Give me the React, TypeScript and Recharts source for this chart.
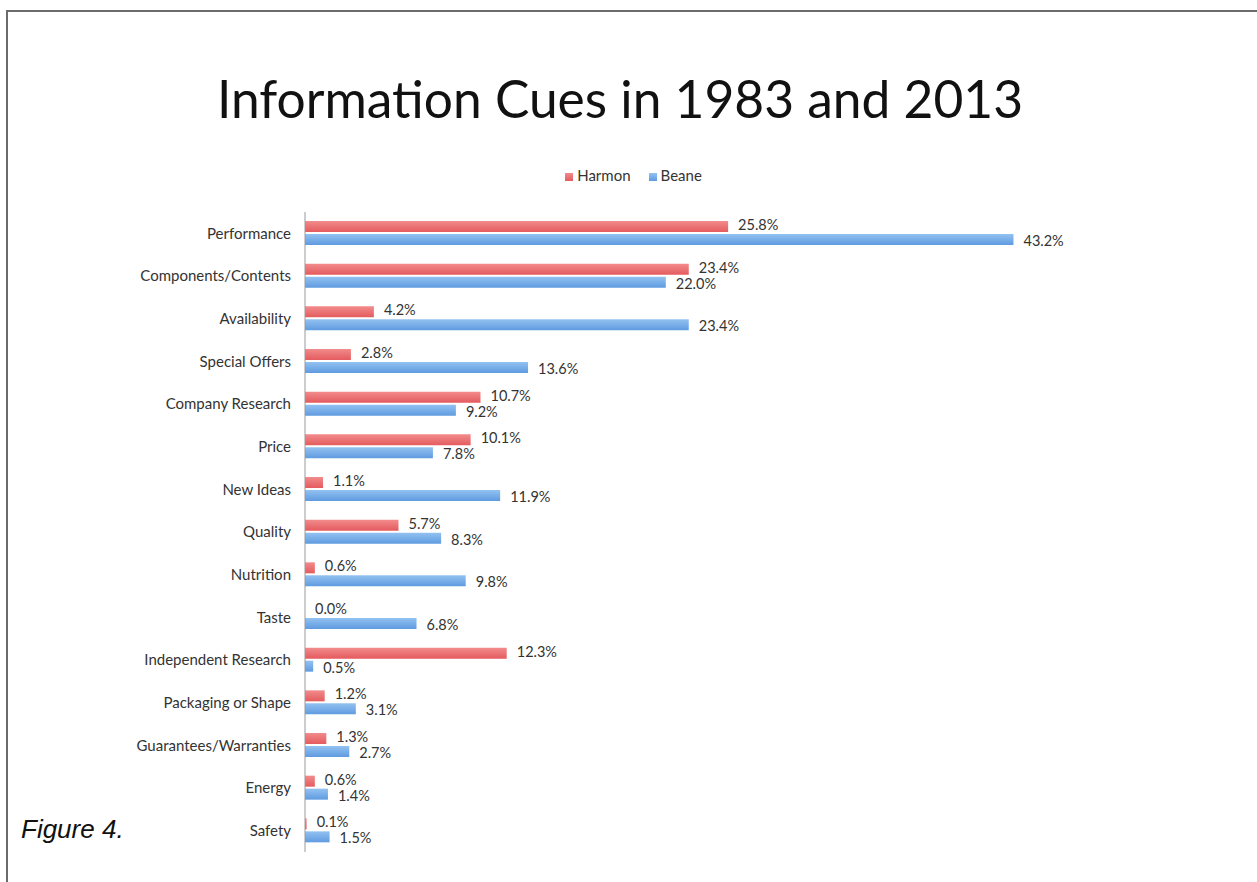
import React from "react";
import { BarChart, Bar, XAxis, YAxis, Legend, LabelList } from "recharts";

const categories = [
  "Performance",
  "Components/Contents",
  "Availability",
  "Special Offers",
  "Company Research",
  "Price",
  "New Ideas",
  "Quality",
  "Nutrition",
  "Taste",
  "Independent Research",
  "Packaging or Shape",
  "Guarantees/Warranties",
  "Energy",
  "Safety",
];
const harmon = [25.8, 23.4, 4.2, 2.8, 10.7, 10.1, 1.1, 5.7, 0.6, 0.0, 12.3, 1.2, 1.3, 0.6, 0.1];
const beane = [43.2, 22.0, 23.4, 13.6, 9.2, 7.8, 11.9, 8.3, 9.8, 6.8, 0.5, 3.1, 2.7, 1.4, 1.5];
const seriesOrder = ["Harmon", "Beane"];

const data = categories.map((c, i) => ({ name: c, Harmon: harmon[i], Beane: beane[i] }));

const FONT = "Lato, 'Open Sans', sans-serif";
const fmt = (v: number) => `${Number(v).toFixed(1)}%`;

export default function App() {
  return (
    <div style={{ position: "absolute", left: 0, top: 0, width: 1257, height: 882, background: "#fff", overflow: "hidden" }}>
      <div
        style={{
          position: "absolute",
          left: 6,
          top: 10,
          width: 1400,
          height: 1000,
          borderTop: "2px solid #6b6b6b",
          borderLeft: "2px solid #6b6b6b",
        }}
      />
      <div
        style={{
          position: "absolute",
          left: 0,
          width: 1240,
          top: 68,
          textAlign: "center",
          fontFamily: FONT,
          fontSize: 51.5,
          color: "#111",
          lineHeight: "60px",
        }}
      >
        Information Cues in 1983 and 2013
      </div>
      <div
        style={{
          position: "absolute",
          left: 21,
          top: 814,
          fontFamily: "'Liberation Sans', Arial, sans-serif",
          fontStyle: "italic",
          fontSize: 26,
          color: "#111",
        }}
      >
        Figure 4.
      </div>
      <BarChart
        width={1257}
        height={882}
        data={data}
        layout="vertical"
        margin={{ top: 194, right: 132, bottom: 30, left: 0 }}
        barSize={11}
        barGap={2}
        style={{ position: "absolute", left: 0, top: 0 }}
      >
        <defs>
          <linearGradient id="gRed" x1="0" y1="0" x2="0" y2="1">
            <stop offset="0%" stopColor="#F28B8C" />
            <stop offset="100%" stopColor="#E45B5E" />
          </linearGradient>
          <linearGradient id="gBlue" x1="0" y1="0" x2="0" y2="1">
            <stop offset="0%" stopColor="#93C2F1" />
            <stop offset="100%" stopColor="#5F9BE0" />
          </linearGradient>
        </defs>
        <XAxis type="number" domain={[0, 50]} hide />
        <YAxis
          type="category"
          dataKey="name"
          width={305}
          tickLine={false}
          tickSize={0}
          tickMargin={14}
          axisLine={{ stroke: "#9a9a9a", strokeWidth: 1 }}
          tick={{ fontFamily: FONT, fontSize: 15, fill: "#333" }}
          interval={0}
        />
        <Legend
          verticalAlign="top"
          align="center"
          iconType="square"
          iconSize={8}
          itemSorter={(item: any) => seriesOrder.indexOf(item.value)}
          wrapperStyle={{ top: 166, left: 80, fontFamily: FONT, fontSize: 15 }}
          formatter={(v: string) => <span style={{ color: "#333", marginRight: 8 }}>{v}</span>}
        />
        <Bar dataKey="Harmon" fill="url(#gRed)" legendType="square" minPointSize={0.01} isAnimationActive={false}>
          <LabelList
            dataKey="Harmon"
            position="right"
            offset={10}
            dy={-1.5}
            formatter={fmt}
            style={{ fontFamily: FONT, fontSize: 14.5, fill: "#333" }}
          />
        </Bar>
        <Bar dataKey="Beane" fill="url(#gBlue)" legendType="square" isAnimationActive={false}>
          <LabelList
            dataKey="Beane"
            position="right"
            offset={10}
            dy={1.5}
            formatter={fmt}
            style={{ fontFamily: FONT, fontSize: 14.5, fill: "#333" }}
          />
        </Bar>
      </BarChart>
    </div>
  );
}
